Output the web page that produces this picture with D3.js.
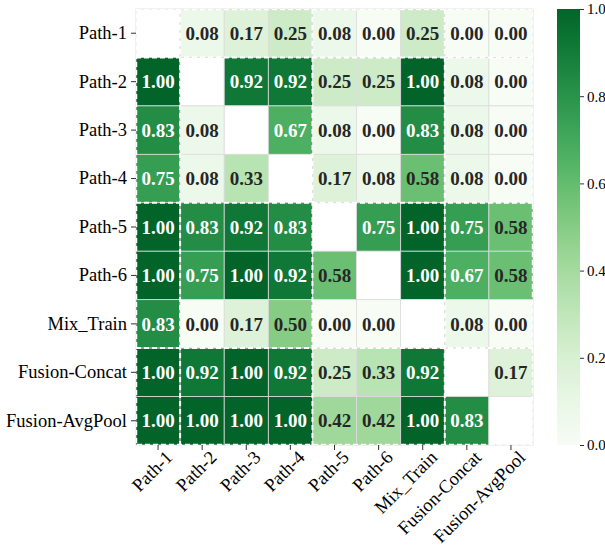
<!DOCTYPE html>
<html><head><meta charset="utf-8">
<script src="https://cdn.jsdelivr.net/npm/d3@7"></script>
<style>body{margin:0;background:#fff}svg{display:block}</style>
</head><body>
<script>
const labels = ["Path-1","Path-2","Path-3","Path-4","Path-5","Path-6","Mix_Train","Fusion-Concat","Fusion-AvgPool"];
const rowPath1 = [null,0.08,0.17,0.25,0.08,0.00,0.25,0.00,0.00];
const rowPath2 = [1.00,null,0.92,0.92,0.25,0.25,1.00,0.08,0.00];
const rowPath3 = [0.83,0.08,null,0.67,0.08,0.00,0.83,0.08,0.00];
const rowPath4 = [0.75,0.08,0.33,null,0.17,0.08,0.58,0.08,0.00];
const rowPath5 = [1.00,0.83,0.92,0.83,null,0.75,1.00,0.75,0.58];
const rowPath6 = [1.00,0.75,1.00,0.92,0.58,null,1.00,0.67,0.58];
const rowMix = [0.83,0.00,0.17,0.50,0.00,0.00,null,0.08,0.00];
const rowConcat = [1.00,0.92,1.00,0.92,0.25,0.33,0.92,null,0.17];
const rowAvg = [1.00,1.00,1.00,1.00,0.42,0.42,1.00,0.83,null];
const matrix = [rowPath1,rowPath2,rowPath3,rowPath4,rowPath5,rowPath6,rowMix,rowConcat,rowAvg];
const groupBreaks = [1,4,7];
const cbTicks = [0.0,0.2,0.4,0.6,0.8,1.0];

const W=605,H=546;
const gx0=136,gx1=533,gy0=9,gy1=445;
const svg=d3.select("body").append("svg").attr("width",W).attr("height",H);
const x=d3.scaleBand().domain(labels).range([gx0,gx1]);
const y=d3.scaleBand().domain(labels).range([gy0,gy1]);
const color=v=>d3.interpolateGreens(v*0.9);
const font="'Liberation Serif','Times New Roman',serif";

const cells=[];
matrix.forEach((row,i)=>row.forEach((v,j)=>cells.push({r:labels[i],c:labels[j],v})));

svg.append("g").selectAll("rect").data(cells).join("rect")
  .attr("x",d=>x(d.c)).attr("y",d=>y(d.r))
  .attr("width",x.bandwidth()).attr("height",y.bandwidth())
  .attr("fill",d=>d.v==null?"#fff":color(d.v))
  .attr("stroke","#dcdcdc").attr("stroke-width",0.8);

svg.append("g").selectAll("text").data(cells.filter(d=>d.v!=null)).join("text")
  .attr("x",d=>x(d.c)+x.bandwidth()/2).attr("y",d=>y(d.r)+y.bandwidth()/2)
  .attr("dy","0.35em").attr("text-anchor","middle")
  .style("font-family",font).style("font-weight","bold").style("font-size","19px")
  .attr("fill",d=>d.v>0.6?"#fff":"#262626")
  .text(d=>d.v.toFixed(2));

// dashed group lines
const defs=svg.append("defs");
defs.append("clipPath").attr("id","gclip").append("rect").attr("x",gx0).attr("y",gy0).attr("width",gx1-gx0).attr("height",gy1-gy0);
const dash=svg.append("g").attr("clip-path","url(#gclip)").attr("stroke","#fff").attr("stroke-width",2).attr("stroke-dasharray","5,3").attr("fill","none");
groupBreaks.forEach(k=>{
  const xv=x(labels[k]);
  dash.append("line").attr("x1",xv).attr("x2",xv).attr("y1",gy0).attr("y2",gy1);
  const yv=y(labels[k]);
  dash.append("line").attr("x1",gx0).attr("x2",gx1).attr("y1",yv).attr("y2",yv);
});
dash.append("rect").attr("x",gx0).attr("y",gy0).attr("width",gx1-gx0).attr("height",gy1-gy0).attr("stroke-width",2.5);

// axes
const ay=svg.append("g").attr("transform",`translate(${gx0},0)`).call(d3.axisLeft(y).tickSize(5).tickPadding(4));
ay.select(".domain").remove();
ay.selectAll("text").style("font-family",font).style("font-size","18.5px").attr("fill","#000");
ay.selectAll("line").attr("stroke","#333");
const ax=svg.append("g").attr("transform",`translate(0,${gy1})`).call(d3.axisBottom(x).tickSize(5).tickPadding(2));
ax.select(".domain").remove();
ax.selectAll("line").attr("stroke","#333");
ax.selectAll("text").style("font-family",font).style("font-size","18.5px").attr("fill","#000")
  .attr("text-anchor","end").attr("dy","0.35em")
  .attr("transform","translate(6,4) rotate(-45)");

// colorbar
const cbx=557,cbw=23;
const cy=d3.scaleLinear().domain([0,1]).range([gy1,gy0]);
const grad=defs.append("linearGradient").attr("id","cb").attr("x1",0).attr("y1",1).attr("x2",0).attr("y2",0);
d3.range(0,1.0001,0.05).forEach(t=>grad.append("stop").attr("offset",t).attr("stop-color",color(t)));
svg.append("rect").attr("x",cbx).attr("y",gy0).attr("width",cbw).attr("height",gy1-gy0).attr("fill","url(#cb)");
const ac=svg.append("g").attr("transform",`translate(${cbx+cbw},0)`).call(d3.axisRight(cy).tickValues(cbTicks).tickFormat(d3.format(".1f")).tickSize(4).tickPadding(3));
ac.select(".domain").remove();
ac.selectAll("line").attr("stroke","#333");
ac.selectAll("text").style("font-family",font).style("font-size","15px").attr("fill","#000");
</script>
</body></html>
